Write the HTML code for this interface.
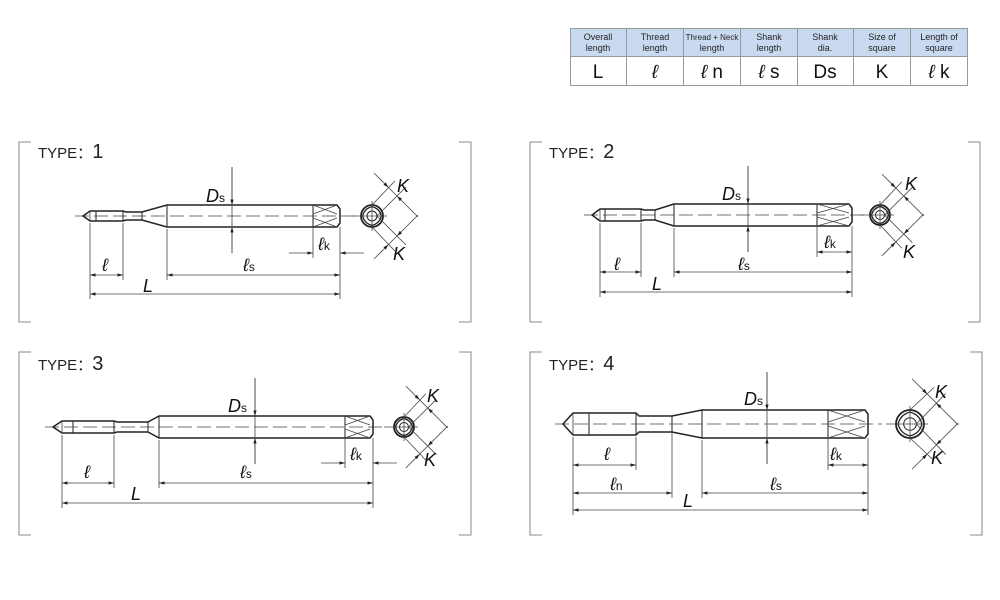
<!DOCTYPE html>
<html><head><meta charset="utf-8"><style>
body{margin:0;background:#fff;width:1000px;height:600px;overflow:hidden;font-family:"Liberation Sans",sans-serif}
svg{position:absolute;left:0;top:0}
text{font-family:"Liberation Sans",sans-serif}
.it{font-style:italic;font-size:18px}
.sb{font-size:12px;font-style:normal}
</style></head><body>
<svg id="s" width="1000" height="600" viewBox="0 0 1000 600">
<defs>
<marker id="a" viewBox="0 0 10 10" refX="10" refY="5" markerWidth="7" markerHeight="7" orient="auto-start-reverse"><path d="M0,2 L10,5 L0,8z" fill="#222"/></marker>
</defs>
<g stroke="#999" stroke-width="1">
<rect x="570.5" y="28.5" width="397" height="57" fill="#fff"/>
<rect x="570.5" y="28.5" width="397" height="28" fill="#c9daf0"/>
<line x1="626.5" y1="28" x2="626.5" y2="86"/><line x1="683.5" y1="28" x2="683.5" y2="86"/>
<line x1="740.5" y1="28" x2="740.5" y2="86"/><line x1="797.5" y1="28" x2="797.5" y2="86"/>
<line x1="853.5" y1="28" x2="853.5" y2="86"/><line x1="910.5" y1="28" x2="910.5" y2="86"/>
</g>
<g font-size="9" text-anchor="middle" fill="#222">
<text x="598" y="40">Overall</text><text x="598" y="51">length</text>
<text x="655" y="40">Thread</text><text x="655" y="51">length</text>
<text x="712" y="40" font-size="8">Thread + Neck</text><text x="712" y="51">length</text>
<text x="769" y="40">Shank</text><text x="769" y="51">length</text>
<text x="825" y="40">Shank</text><text x="825" y="51">dia.</text>
<text x="882" y="40">Size of</text><text x="882" y="51">square</text>
<text x="939" y="40">Length of</text><text x="939" y="51">square</text>
</g>
<g font-size="19" text-anchor="middle" fill="#111">
<text x="598" y="78">L</text><text x="655" y="78" font-style="italic">ℓ</text>
<text x="712" y="78"><tspan font-style="italic">ℓ</tspan> n</text><text x="769" y="78"><tspan font-style="italic">ℓ</tspan> s</text>
<text x="825" y="78">Ds</text><text x="882" y="78">K</text><text x="939" y="78"><tspan font-style="italic">ℓ</tspan> k</text>
</g>
<g id="g" fill="none" stroke="#222" stroke-width="1"></g>
<g fill="#222" font-size="15">
<text x="38" y="158">TYPE：<tspan font-size="20">1</tspan></text>
<text x="549" y="158">TYPE：<tspan font-size="20">2</tspan></text>
<text x="38" y="370">TYPE：<tspan font-size="20">3</tspan></text>
<text x="549" y="370">TYPE：<tspan font-size="20">4</tspan></text>
</g>
<g fill="#111" class="it">
<text x="206" y="202" class="it">D<tspan class="sb">s</tspan></text>
<text x="102" y="271" class="it">ℓ</text>
<text x="243" y="271" class="it">ℓ<tspan class="sb">s</tspan></text>
<text x="143" y="292" class="it">L</text>
<text x="318" y="250" class="it">ℓ<tspan class="sb">k</tspan></text>
<text x="397" y="192" class="it">K</text><text x="393" y="260" class="it">K</text>
<text x="722" y="200" class="it">D<tspan class="sb">s</tspan></text>
<text x="614" y="270" class="it">ℓ</text>
<text x="738" y="270" class="it">ℓ<tspan class="sb">s</tspan></text>
<text x="652" y="290" class="it">L</text>
<text x="824" y="248" class="it">ℓ<tspan class="sb">k</tspan></text>
<text x="905" y="190" class="it">K</text><text x="903" y="258" class="it">K</text>
<text x="228" y="412" class="it">D<tspan class="sb">s</tspan></text>
<text x="84" y="478" class="it">ℓ</text>
<text x="240" y="478" class="it">ℓ<tspan class="sb">s</tspan></text>
<text x="131" y="500" class="it">L</text>
<text x="350" y="460" class="it">ℓ<tspan class="sb">k</tspan></text>
<text x="427" y="402" class="it">K</text><text x="424" y="466" class="it">K</text>
<text x="744" y="405" class="it">D<tspan class="sb">s</tspan></text>
<text x="604" y="460" class="it">ℓ</text>
<text x="610" y="490" class="it">ℓ<tspan class="sb">n</tspan></text>
<text x="770" y="490" class="it">ℓ<tspan class="sb">s</tspan></text>
<text x="683" y="507" class="it">L</text>
<text x="830" y="460" class="it">ℓ<tspan class="sb">k</tspan></text>
<text x="935" y="398" class="it">K</text><text x="931" y="464" class="it">K</text>
</g>
</svg>
<script>
var g=document.getElementById('g'),NS='http://www.w3.org/2000/svg';
function el(n,a){var e=document.createElementNS(NS,n);for(var k in a)e.setAttribute(k,a[k]);g.appendChild(e);return e;}
function L(x1,y1,x2,y2,o){var a={x1:x1,y1:y1,x2:x2,y2:y2};for(var k in o)a[k]=o[k];return el('line',a);}
function P(d,o){var a={d:d};for(var k in o)a[k]=o[k];return el('path',a);}
var thin={stroke:'#444','stroke-width':0.8};
function arr2(x1,y,x2){L(x1,y,x2,y,{stroke:'#444','stroke-width':0.8,'marker-start':'url(#a)','marker-end':'url(#a)'});}
function arrTo(x1,y1,x2,y2){L(x1,y1,x2,y2,{stroke:'#444','stroke-width':0.8,'marker-end':'url(#a)'});}
function bracket(x1,x2,y1,y2){P('M'+(x1+12)+','+y1+'H'+x1+'V'+y2+'H'+(x1+12),{stroke:'#888'});P('M'+(x2-12)+','+y1+'H'+x2+'V'+y2+'H'+(x2-12),{stroke:'#888'});}
function kdims(cx,c,s,r){
 function p(x,y){return [cx+x*s,c+y*s];}
 function LL(a,b){L(a[0],a[1],b[0],b[1],thin);}
 function A(a,b){arrTo(a[0],a[1],b[0],b[1]);}
 var e=r/s;
 LL(p(0,-e),p(23,-35));LL(p(0,e),p(23,35));
 LL(p(e*0.45,0),p(34,-29));LL(p(e*0.45,0),p(34,29));
 A(p(2,-43),p(16.5,-28.5));A(p(46,1),p(25,-20));LL(p(16.5,-28.5),p(25,-20));
 A(p(2,43),p(16.5,28.5));A(p(46,-1),p(25,20));LL(p(16.5,28.5),p(25,20));
}
function tool(o){
 var c=o.cy;
 L(o.tip-8,c,o.end+14,c,{stroke:'#444','stroke-width':0.8,'stroke-dasharray':'14,5'});
 var th=o.th,nh=o.nh,sh=o.sh;
 P('M'+o.tip+','+c+'L'+o.hx+','+(c-th)+'H'+o.te+'L'+(o.te+3)+','+(c-nh)+'H'+o.ne+'L'+o.ss+','+(c-sh)+'H'+(o.end-3)+'L'+o.end+','+(c-sh+4)+'V'+(c+sh-4)+'L'+(o.end-3)+','+(c+sh)+'H'+o.ss+'L'+o.ne+','+(c+nh)+'H'+(o.te+3)+'L'+o.te+','+(c+th)+'H'+o.hx+'Z',{'stroke-width':1.5});
 L(o.ts,c-th,o.ts,c+th);L(o.hx,c-th,o.hx,c+th,thin);L(o.te,c-th,o.te,c+th);
 L(o.ne,c-nh,o.ne,c+nh);L(o.ss,c-sh,o.ss,c+sh);L(o.sq,c-sh,o.sq,c+sh);
 P('M'+o.sq+','+(c-sh)+'L'+(o.end-3)+','+(c-2)+'M'+o.sq+','+(c-2)+'L'+(o.end-3)+','+(c-sh)+'M'+o.sq+','+(c+sh)+'L'+(o.end-3)+','+(c+2)+'M'+o.sq+','+(c+2)+'L'+(o.end-3)+','+(c+sh),thin);
 L(o.dx,c-sh-38,o.dx,c+sh+26,thin);
 arrTo(o.dx,c-sh-38,o.dx,c-sh);arrTo(o.dx,c+sh+26,o.dx,c+sh);
 var bot=o.Ly+5;
 L(o.hx,c+th+2,o.hx,bot,thin);L(o.te,c+th+2,o.te,o.ly+5,thin);L(o.ss,c+sh+2,o.ss,o.sy+5,thin);
 L(o.end,c+sh,o.end,bot,thin);L(o.sq,c+sh,o.sq,o.ky+5,thin);
 arr2(o.hx,o.ly,o.te);arr2(o.ss,o.sy,o.end);arr2(o.hx,o.Ly,o.end);
 if(o.kout){arrTo(o.sq-24,o.ky,o.sq,o.ky);arrTo(o.end+24,o.ky,o.end,o.ky);}else arr2(o.sq,o.ky,o.end);
 if(o.ny){L(o.ne,c+nh,o.ne,o.ny+5,thin);arr2(o.hx,o.ny,o.ne);}
 var cx=o.cx,r=o.r;
 el('circle',{cx:cx,cy:c,r:r,'stroke-width':1.8});
 var s=r*0.68;P('M'+cx+','+(c-s*1.25)+'Q'+(cx+s)+','+(c-s)+' '+(cx+s*1.25)+','+c+'Q'+(cx+s)+','+(c+s)+' '+cx+','+(c+s*1.25)+'Q'+(cx-s)+','+(c+s)+' '+(cx-s*1.25)+','+c+'Q'+(cx-s)+','+(c-s)+' '+cx+','+(c-s*1.25)+'Z',{'stroke-width':1.3});
 el('circle',{cx:cx,cy:c,r:r*0.45});
 L(cx-r-10,c,cx+r+4,c,thin);L(cx,c-r-4,cx,c+r+4,thin);
 kdims(cx,c,o.ks,r);
}
bracket(19,471,142,322);bracket(530,980,142,322);bracket(19,471,352,535);bracket(530,982,352,535);
var T=[
 {cy:216,tip:83,hx:90,ts:96,te:123,ne:142,ss:167,sq:313,end:340,th:5,nh:4,sh:11,dx:232,ly:275,sy:275,Ly:294,ky:253,kout:true,cx:372,r:11,ks:1},
 {cy:215,tip:592,hx:600,ts:605,te:641,ne:655,ss:674,sq:817,end:852,th:6,nh:5,sh:11,dx:748,ly:272,sy:272,Ly:292,ky:252,kout:false,cx:880,r:10,ks:0.95},
 {cy:427,tip:53,hx:62,ts:73,te:114,ne:148,ss:159,sq:345,end:373,th:6,nh:5,sh:11,dx:255,ly:483,sy:483,Ly:503,ky:463,kout:true,cx:404,r:10,ks:0.95},
 {cy:424,tip:563,hx:573,ts:589,te:636,ne:672,ss:702,sq:828,end:868,th:11,nh:8,sh:14,dx:767,ly:465,sy:493,Ly:510,ky:465,kout:false,ny:493,cx:910,r:14,ks:1.05}
];
T.forEach(tool);
</script>
</body></html>
